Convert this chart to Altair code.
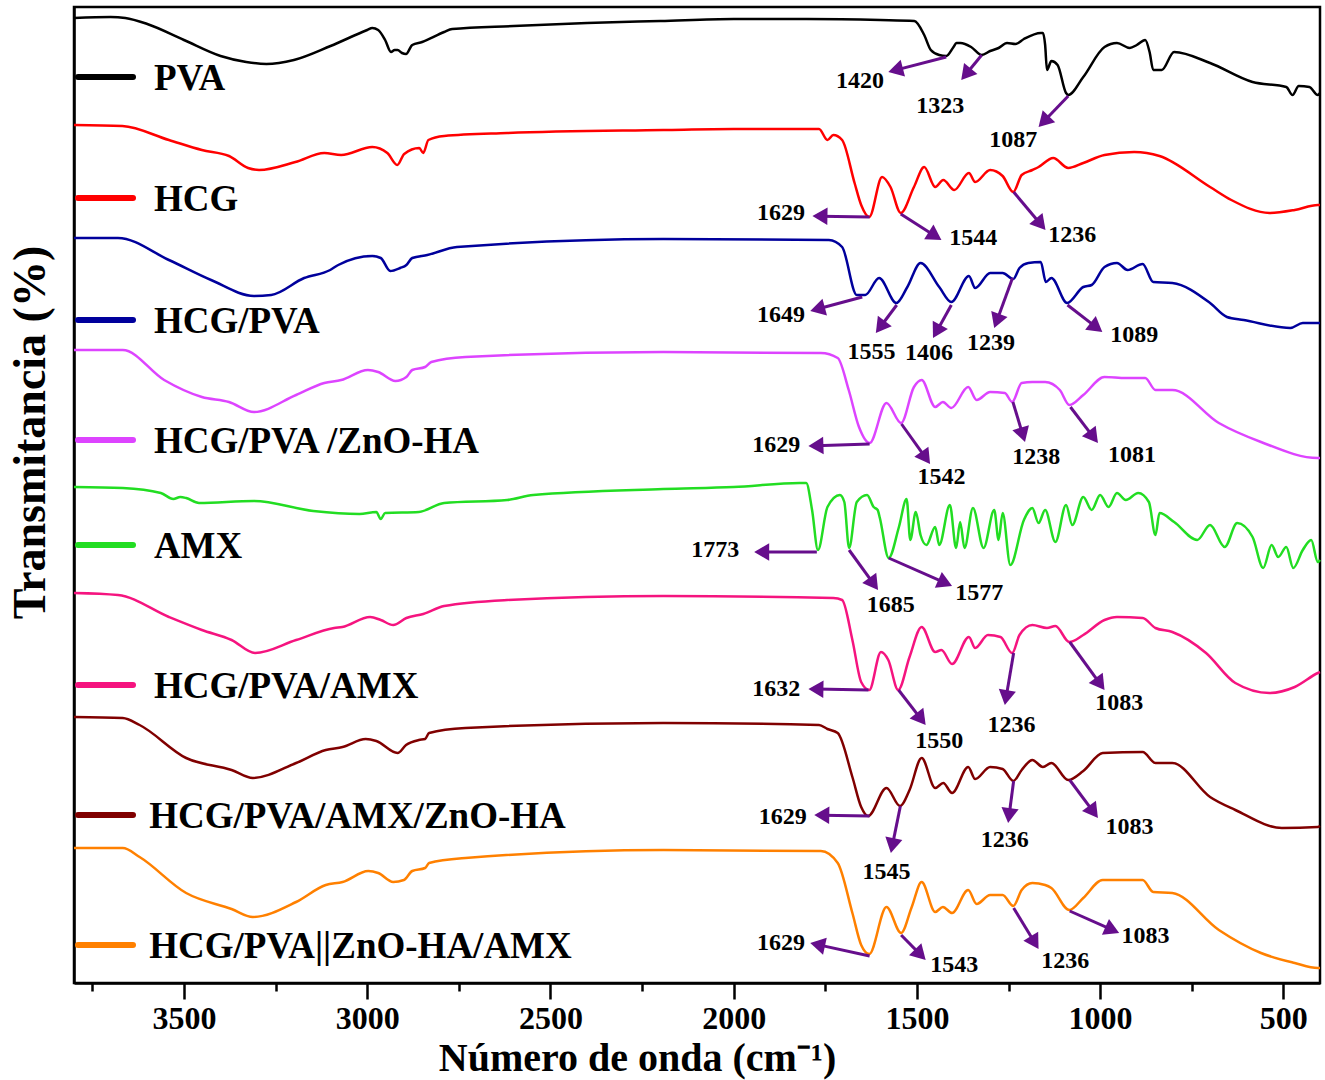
import math
import altair as alt
import pandas as pd

# ---------------- data ----------------
series_names = ["PVA", "HCG", "HCG/PVA", "HCG/PVA /ZnO-HA", "AMX",
                "HCG/PVA/AMX", "HCG/PVA/AMX/ZnO-HA", "HCG/PVA||ZnO-HA/AMX"]
series_colors = ["#000000", "#ff0000", "#00009c", "#dd44ff", "#22dd22",
                 "#f5147f", "#800000", "#ff8000"]

pva_wn = [3800, 3700, 3660, 3600, 3500, 3400, 3330, 3275, 3200, 3100, 3000, 2986, 2970, 2951, 2935, 2925,
          2917, 2905, 2894, 2877, 2850, 2790, 2768, 2600, 2400, 2200, 2000, 1800, 1600, 1507, 1480, 1462,
          1439, 1420, 1400, 1392, 1381, 1352, 1323, 1300, 1277, 1254, 1231, 1208, 1162, 1156, 1150, 1145,
          1133, 1116, 1093, 1087, 1046, 988, 954, 919, 900, 877, 865, 855, 832, 798, 700, 584, 492, 475,
          458, 429, 406, 400]
pva_t = [965, 966, 965, 959, 943, 927, 921, 919, 923, 937, 953, 955, 953, 943, 931, 933,
         933, 930, 929, 938, 941, 951, 954, 957, 960, 962, 964, 964, 963, 962, 948, 933,
         928, 927, 936, 940, 940, 936, 928, 932, 935, 940, 939, 944, 950, 950, 938, 913,
         922, 918, 890, 888, 906, 936, 940, 935, 938, 943, 931, 913, 913, 931, 920, 901, 896, 888,
         897, 896, 888, 890]

hcg_wn = [3800, 3668, 3541, 3451, 3377, 3325, 3295, 3196, 3117, 3071, 2986, 2945, 2918, 2899, 2858, 2847,
          2833, 2790, 2618, 2192, 2000, 1767, 1744, 1728, 1704, 1670, 1652, 1630, 1595, 1572, 1544, 1508,
          1480, 1450, 1428, 1398, 1358, 1341, 1300, 1266, 1237, 1214, 1185, 1168, 1128, 1087, 1046, 988,
          907, 838, 700, 642, 538, 469, 406, 400]
hcg_t = [858, 857, 843, 833, 827, 815, 813, 821, 830, 828, 836, 830, 818, 829, 835, 830,
         843, 847, 850, 853, 854, 854, 843, 848, 843, 800, 778, 766, 806, 796, 770, 796,
         816, 796, 803, 793, 810, 801, 813, 807, 791, 808, 813, 816, 825, 815, 820, 828,
         831, 827, 796, 783, 770, 773, 778, 778]

hcgpva_wn = [3800, 3680, 3541, 3426, 3309, 3262, 3172, 3101, 3079, 2986, 2963, 2937, 2910, 2893, 2877, 2836,
             2755, 2192, 1740, 1704, 1664, 1641, 1603, 1556, 1526, 1490, 1439, 1406, 1358, 1341, 1300, 1266,
             1237, 1220, 1196, 1162, 1148, 1133, 1090, 1046, 1023, 988, 954, 925, 884, 855, 803, 700,
             654, 608, 481, 447, 406, 400]
hcgpva_t = [745, 745, 723, 703, 687, 688, 705, 713, 718, 727, 725, 712, 715, 718, 725, 728,
            736, 744, 743, 736, 688, 688, 705, 680, 696, 720, 696, 681, 707, 695, 710, 710,
            704, 715, 720, 721, 701, 705, 680, 696, 698, 716, 720, 713, 719, 701, 700, 680,
            666, 663, 655, 660, 660, 660]

hpz_wn = [3800, 3667, 3554, 3451, 3377, 3309, 3194, 3117, 3071, 2998, 2970, 2923, 2893, 2877, 2842, 2825,
          2732, 2192, 1762, 1716, 1686, 1658, 1629, 1583, 1543, 1508, 1487, 1450, 1429, 1406, 1360, 1337,
          1300, 1260, 1240, 1214, 1185, 1150, 1110, 1084, 1046, 988, 930, 877, 849, 803, 676, 561,
          406, 400]
hpz_t = [633, 633, 603, 586, 581, 571, 588, 600, 603, 613, 611, 602, 606, 613, 616, 621,
         626, 631, 630, 625, 593, 556, 540, 580, 560, 596, 603, 576, 581, 575, 596, 583,
         591, 590, 581, 600, 601, 601, 593, 578, 588, 606, 605, 605, 593, 593, 560, 541,
         525, 525]

amx_wn = [3800, 3667, 3563, 3529, 3510, 3494, 3459, 3309, 3147, 3021, 2975, 2963, 2951, 2859, 2790, 2618,
          2547, 2192, 2000, 1820, 1802, 1786, 1770, 1744, 1710, 1698, 1685, 1664, 1636, 1618, 1607, 1601,
          1577, 1549, 1528, 1518, 1503, 1490, 1474, 1450, 1439, 1410, 1393, 1382, 1370, 1347, 1318, 1289,
          1277, 1266, 1245, 1208, 1185, 1168, 1150, 1122, 1093, 1076, 1046, 1023, 1000, 977, 954, 930,
          896, 867, 849, 838, 798, 735, 700, 660, 626, 584, 555, 532, 514, 492, 473, 447,
          424, 406, 400]
amx_t = [496, 495, 490, 484, 486, 485, 480, 482, 472, 469, 471, 464, 470, 471, 480, 483,
         488, 494, 496, 500, 500, 473, 433, 476, 488, 481, 435, 481, 488, 476, 473, 465,
         425, 456, 484, 443, 471, 448, 438, 456, 438, 478, 435, 461, 435, 475, 435, 473,
         443, 470, 418, 463, 475, 460, 473, 441, 478, 458, 486, 473, 488, 476, 490, 483,
         490, 481, 448, 470, 461, 443, 458, 436, 460, 446, 415, 438, 426, 436, 415, 433,
         443, 421, 423]

hpa_wn = [3800, 3680, 3541, 3451, 3370, 3306, 3194, 3090, 3068, 2992, 2963, 2929, 2893, 2847, 2790, 2618,
          2192, 1728, 1704, 1676, 1652, 1630, 1598, 1578, 1551, 1520, 1487, 1450, 1433, 1404, 1358, 1341,
          1306, 1272, 1240, 1220, 1185, 1145, 1122, 1084, 1046, 988, 954, 884, 849, 803, 711, 631,
          538, 469, 406, 400]
hpa_t = [390, 388, 366, 353, 343, 330, 343, 355, 356, 366, 363, 358, 365, 369, 377, 383,
         387, 385, 383, 343, 301, 293, 331, 323, 293, 326, 356, 331, 333, 319, 346, 335,
         348, 346, 330, 348, 358, 355, 357, 341, 348, 363, 366, 365, 355, 351, 330, 300,
         290, 296, 310, 311]

hpaz_wn = [3800, 3667, 3621, 3494, 3370, 3312, 3194, 3113, 3067, 3004, 2975, 2917, 2894, 2859, 2842, 2831,
           2732, 2192, 1767, 1744, 1716, 1676, 1652, 1633, 1583, 1546, 1520, 1487, 1450, 1428, 1404, 1360,
           1341, 1300, 1266, 1237, 1214, 1185, 1156, 1133, 1087, 1046, 993, 884, 849, 803, 700, 631,
           504, 406, 400]
hpaz_t = [266, 265, 258, 225, 213, 205, 220, 233, 236, 244, 242, 230, 238, 243, 244, 250,
          255, 260, 258, 254, 250, 206, 176, 167, 195, 177, 193, 225, 195, 200, 190, 216,
          204, 216, 214, 202, 213, 223, 216, 220, 203, 212, 230, 231, 220, 220, 186, 173,
          155, 156, 157]

hpza_wn = [3800, 3667, 3621, 3494, 3370, 3312, 3194, 3113, 3067, 2997, 2970, 2929, 2900, 2877, 2842, 2831,
           2732, 2192, 1762, 1716, 1676, 1652, 1630, 1583, 1543, 1514, 1487, 1450, 1429, 1404, 1360, 1337,
           1300, 1266, 1237, 1214, 1185, 1150, 1133, 1084, 1046, 993, 884, 855, 803, 676, 561, 469,
           406, 400]
hpza_t = [135, 135, 126, 90, 74, 66, 81, 98, 101, 112, 110, 101, 103, 112, 115, 120,
          125, 133, 132, 120, 70, 38, 29, 76, 50, 76, 101, 71, 76, 70, 93, 79,
          88, 88, 77, 93, 100, 98, 95, 73, 85, 103, 103, 91, 90, 53, 30, 20,
          15, 15]

spectra_wn = [pva_wn, hcg_wn, hcgpva_wn, hpz_wn, amx_wn, hpa_wn, hpaz_wn, hpza_wn]
spectra_t = [pva_t, hcg_t, hcgpva_t, hpz_t, amx_t, hpa_t, hpaz_t, hpza_t]

# inline legend rows (transmittance level of each row)
legend_t = [906, 785, 663, 543, 438, 298, 168, 38]
legend_seg_wn = [3789, 3639]
legend_text_wn = [3582, 3582, 3582, 3582, 3582, 3582, 3595, 3595]

# peak annotations
ann_text = ["1420", "1323", "1087",
            "1629", "1544", "1236",
            "1649", "1555", "1406", "1239", "1089",
            "1629", "1542", "1238", "1081",
            "1773", "1685", "1577",
            "1632", "1550", "1236", "1083",
            "1629", "1545", "1236", "1083",
            "1629", "1543", "1236", "1083"]
ann_start_wn = [1420, 1323, 1087,
                1629, 1544, 1236,
                1649, 1555, 1406, 1239, 1089,
                1629, 1542, 1238, 1081,
                1773, 1685, 1577,
                1632, 1550, 1236, 1083,
                1629, 1545, 1236, 1083,
                1629, 1543, 1236, 1083]
ann_start_t = [926, 928, 887,
               766, 769, 791,
               686, 678, 678, 705, 678,
               539, 559, 581, 576,
               431, 433, 425,
               293, 293, 330, 341,
               167, 177, 202, 203,
               27, 48, 75, 72]
ann_tip_wn = [1578, 1379, 1168,
              1785, 1433, 1149,
              1791, 1612, 1456, 1289, 994,
              1796, 1464, 1205, 1006,
              1944, 1606, 1404,
              1796, 1476, 1260, 988,
              1780, 1571, 1251, 1006,
              1791, 1476, 1168, 948]
ann_tip_t = [911, 903, 856,
             767, 743, 753,
             672, 650, 645, 655, 651,
             537, 519, 541, 540,
             431, 393, 397,
             294, 258, 278, 293,
             168, 130, 160, 165,
             40, 23, 34, 50]
ann_label_wn = [1655, 1436, 1237,
                1871, 1346, 1076,
                1871, 1624, 1467, 1298, 907,
                1884, 1433, 1174, 913,
                2050, 1571, 1330,
                1884, 1439, 1242, 948,
                1866, 1583, 1260, 920,
                1871, 1398, 1095, 876]
ann_label_t = [902, 877, 843,
               770, 745, 748,
               668, 631, 630, 640, 648,
               538, 506, 526, 528,
               433, 378, 390,
               294, 242, 258, 280,
               166, 111, 143, 156,
               40, 18, 22, 47]

# ---------------- layout constants ----------------
WN_LO, WN_HI = 400, 3800
T_LO, T_HI = 0, 976
PLOT_W, PLOT_H = 1246, 976
FONT = "Liberation Serif"
ARROW = "#660e8c"
HEAD_SIZE = 300

kx = PLOT_W / (WN_HI - WN_LO)
ky = PLOT_H / (T_HI - T_LO)
head_h = math.sqrt(3) * (math.sqrt(HEAD_SIZE) / 2) / 2

# ---------------- tables ----------------
rows = []
for name, wns, ts in zip(series_names, spectra_wn, spectra_t):
    for i, (w, t) in enumerate(zip(wns, ts)):
        rows.append({"series": name, "wn": w, "t": t, "idx": i})
spec_df = pd.DataFrame(rows)

leg_df = pd.DataFrame({
    "series": series_names,
    "t": legend_t,
    "x1": [legend_seg_wn[0]] * len(series_names),
    "x2": [legend_seg_wn[1]] * len(series_names),
    "xt": legend_text_wn,
})

arr_rows = []
for txt, sw, st, tw, tt, lw, lt in zip(ann_text, ann_start_wn, ann_start_t, ann_tip_wn, ann_tip_t,
                                        ann_label_wn, ann_label_t):
    dx = (sw - tw) * kx          # screen dx from start to tip
    dy = -(tt - st) * ky         # screen dy (down positive)
    L = math.hypot(dx, dy)
    ux, uy = dx / L, dy / L
    ang = math.degrees(math.atan2(ux, -uy)) % 360
    cw = tw + head_h * ux / kx
    ct = tt + head_h * uy / ky
    arr_rows.append({"text": txt, "sw": sw, "st": st, "cw": cw, "ct": ct,
                     "lw": lw, "lt": lt, "angle": ang})
arr_df = pd.DataFrame(arr_rows)

# ---------------- encodings ----------------
x_scale = alt.Scale(domain=[WN_LO, WN_HI], reverse=True, nice=False, zero=False)
y_scale = alt.Scale(domain=[T_LO, T_HI], nice=False, zero=False)
color_scale = alt.Scale(domain=series_names, range=series_colors)

X_TITLE = "Número de onda (cm⁻¹)"
Y_TITLE = "Transmitancia (%)"

x_axis = alt.Axis(
    values=list(range(3750, 399, -250)),
    format="d",
    labelExpr="datum.value % 500 === 0 ? datum.label : ''",
    tickSize={"condition": {"test": "datum.value % 500 === 0", "value": 16}, "value": 8},
    tickWidth=2.5, tickColor="black",
    domainColor="black", domainWidth=2.5,
    labelFont=FONT, labelFontWeight="bold", labelFontSize=32, labelColor="black",
    labelPadding=4, grid=False,
    title=X_TITLE,
    titleFont=FONT, titleFontWeight="bold", titleFontSize=40, titleColor="black",
    titleX=563, titleY=75, titleAlign="center", titleBaseline="middle",
)
y_axis = alt.Axis(
    labels=False, ticks=False, grid=False,
    domainColor="black", domainWidth=2.5,
    title=Y_TITLE,
    titleFont=FONT, titleFontWeight="bold", titleFontSize=46, titleColor="black",
    titleAngle=270, titleX=-44, titleY=425, titleAlign="center", titleBaseline="middle",
)


def X(field):
    return alt.X(field, scale=x_scale, axis=x_axis, title=X_TITLE)


def Y(field):
    return alt.Y(field, scale=y_scale, axis=y_axis, title=Y_TITLE)


lines = alt.Chart(spec_df).mark_line(strokeWidth=2.5, interpolate="monotone").encode(
    x=X("wn:Q"),
    y=Y("t:Q"),
    color=alt.Color("series:N", scale=color_scale, legend=None),
    order=alt.Order("idx:Q"),
)

leg_lines = alt.Chart(leg_df).mark_rule(strokeWidth=6, strokeCap="round").encode(
    x=X("x1:Q"),
    x2="x2:Q",
    y=Y("t:Q"),
    color=alt.Color("series:N", scale=color_scale, legend=None),
)
leg_text = alt.Chart(leg_df).mark_text(
    align="left", baseline="middle", font=FONT, fontWeight="bold", fontSize=37, color="black", dy=2
).encode(
    x=X("xt:Q"),
    y=Y("t:Q"),
    text="series:N",
)

arr_lines = alt.Chart(arr_df).mark_rule(strokeWidth=3, color=ARROW).encode(
    x=X("sw:Q"),
    x2="cw:Q",
    y=Y("st:Q"),
    y2="ct:Q",
)
arr_heads = alt.Chart(arr_df).mark_point(
    shape="triangle-up", filled=True, size=HEAD_SIZE, color=ARROW, opacity=1, strokeWidth=0
).encode(
    x=X("cw:Q"),
    y=Y("ct:Q"),
    angle=alt.Angle("angle:Q", scale=None),
)
arr_text = alt.Chart(arr_df).mark_text(
    align="center", baseline="middle", font=FONT, fontWeight="bold", fontSize=24, color="black"
).encode(
    x=X("lw:Q"),
    y=Y("lt:Q"),
    text="text:N",
)

chart = alt.layer(lines, leg_lines, leg_text, arr_lines, arr_heads, arr_text).properties(
    width=PLOT_W, height=PLOT_H,
    autosize="none",
    padding={"left": 74, "top": 7, "right": 5, "bottom": 97},
    background="white",
).configure_view(stroke="black", strokeWidth=2.5)

chart.save("out.html", embed_options={"renderer": "svg", "actions": False})
